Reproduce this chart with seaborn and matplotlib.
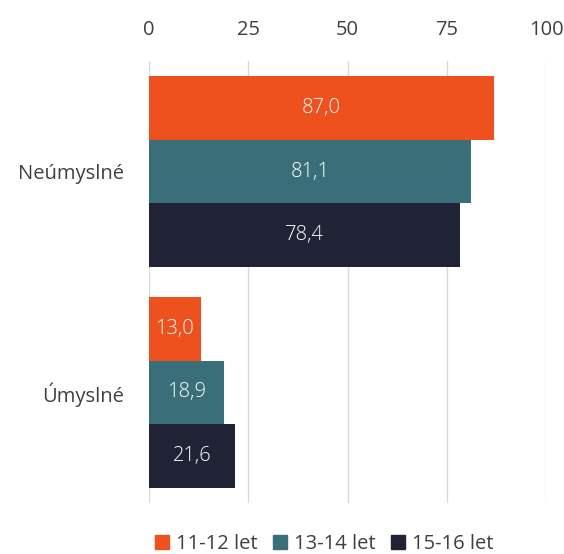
import pandas as pd
import numpy as np
import matplotlib.pyplot as plt
import seaborn as sns

# --- Data ---
categories = ["Neúmyslné", "Úmyslné"]
age_groups = ["11-12 let", "13-14 let", "15-16 let"]
values_11_12 = [87.0, 13.0]
values_13_14 = [81.1, 18.9]
values_15_16 = [78.4, 21.6]
colors = ["#EE511E", "#3A6E79", "#1F2335"]

df = pd.DataFrame({
    "kategorie": categories * 3,
    "vek": [age_groups[0]] * 2 + [age_groups[1]] * 2 + [age_groups[2]] * 2,
    "hodnota": values_11_12 + values_13_14 + values_15_16,
})

sns.set_theme(style="white")
plt.rcParams['font.family'] = ['Open Sans', 'DejaVu Sans']
TEXT = "#404040"
FS = 14.5

fig = plt.figure(figsize=(5.64, 5.54), dpi=100)
ax = fig.add_axes([149 / 564, 1 - 503 / 554, 397 / 564, 442 / 554])

sns.barplot(
    data=df, x="hodnota", y="kategorie", hue="vek",
    hue_order=age_groups, order=categories,
    palette=colors, orient="h", width=0.86, gap=0,
    saturation=1, ax=ax, legend=False, errorbar=None, linewidth=0,
)

for container in ax.containers:
    ax.bar_label(
        container, labels=[f"{v:.1f}".replace(".", ",") for v in container.datavalues],
        label_type="center", color="white", fontsize=FS, fontweight="light",
    )

ax.set_xlim(0, 100)
ax.set_ylim(1.5, -0.5)
ax.set_xticks([0, 25, 50, 75, 100])
ax.xaxis.tick_top()
ax.tick_params(axis="x", length=0, pad=15, labelsize=FS, labelcolor=TEXT)
ax.tick_params(axis="y", length=0, pad=18, labelsize=FS, labelcolor=TEXT)
ax.grid(axis="x", color="#D9D9D9", linewidth=1)
ax.set_axisbelow(True)
for s in ax.spines.values():
    s.set_visible(False)
ax.set_xlabel("")
ax.set_ylabel("")

handles = [plt.Rectangle((0, 0), 1, 1, color=c) for c in colors]
fig.legend(
    handles, age_groups, loc="center", bbox_to_anchor=(324 / 564, 1 - 544 / 554),
    ncol=3, frameon=False, fontsize=FS, handlelength=0.7, handleheight=0.7,
    handletextpad=0.35, columnspacing=0.75, labelcolor=TEXT,
)

fig.savefig("out.png", dpi=100)
